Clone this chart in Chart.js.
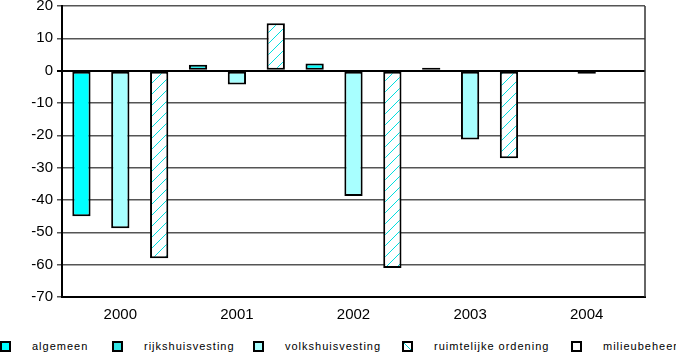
<!DOCTYPE html>
<html>
<head>
<meta charset="utf-8">
<script src="https://cdn.jsdelivr.net/npm/chart.js@4/dist/chart.umd.min.js"></script>
<style>
  body { margin: 0; background: #fff; width: 676px; height: 353px; overflow: hidden; position: relative; font-family: "Liberation Sans", Arial, sans-serif; }
  #grafiek { position: absolute; left: 0; top: -7px; }
  #legenda { position: absolute; left: 0; top: 341px; width: 676px; height: 12px; }
  .item { position: absolute; top: 0; height: 12px; }
  .vak { position: absolute; left: 0; top: 0; width: 7px; height: 7px; border: 2px solid #000; }
  .tekst { position: absolute; left: 32px; top: -1px; font-size: 11px; letter-spacing: 1px; white-space: nowrap; color: #000; }
</style>
</head>
<body>
<canvas id="grafiek" width="676" height="332"></canvas>
<div id="legenda"></div>
<script>
const jaren = ['2000', '2001', '2002', '2003', '2004']
const algemeen = [-45, 1.8, 2.2, 0.3, null]
const rijkshuisvesting = [null, null, null, null, null]
const volkshuisvesting = [-48.7, -4.3, -38.8, -21.3, null]
const ruimtelijkeOrdening = [-58, 14.7, -61, -27.1, null]
const milieubeheer = [null, null, null, null, -0.8]

const legendaX = [0, 112, 253, 402, 571]

function arcering() {
    const c = document.createElement('canvas')
    c.width = 11
    c.height = 11
    const g = c.getContext('2d')
    g.fillStyle = '#fff'
    g.fillRect(0, 0, 11, 11)
    g.strokeStyle = '#00dede'
    g.lineWidth = 1
    g.beginPath()
    g.moveTo(0, 11)
    g.lineTo(11, 0)
    g.stroke()
    return g.createPattern(c, 'repeat')
}

const series = [
    { label: 'algemeen', data: algemeen, kleur: '#00ffff', stack: 'a', css: '#00ffff' },
    { label: 'rijkshuisvesting', data: rijkshuisvesting, kleur: '#33e6e6', stack: 'b', css: '#33e6e6' },
    { label: 'volkshuisvesting', data: volkshuisvesting, kleur: '#a8ffff', stack: 'b', css: '#a8ffff' },
    { label: 'ruimtelijke ordening', data: ruimtelijkeOrdening, kleur: arcering(), stack: 'c',
      css: 'linear-gradient(45deg, #fff 44%, #00d0d0 50%, #fff 56%)' },
    { label: 'milieubeheer', data: milieubeheer, kleur: '#ffffff', stack: 'b', css: '#fff' }
]

// rand rechts van het plotvlak
const kader = {
    id: 'kader',
    afterDraw(chart) {
        const { ctx, chartArea } = chart
        ctx.save()
        ctx.strokeStyle = '#333'
        ctx.lineWidth = 1.5
        ctx.beginPath()
        ctx.moveTo(chartArea.right, chartArea.top)
        ctx.lineTo(chartArea.right, chartArea.bottom)
        ctx.stroke()
        ctx.restore()
    }
}

const cfg = {
    type: 'bar',
    data: {
        labels: jaren,
        datasets: series.map(s => ({
            label: s.label,
            data: s.data,
            stack: s.stack,
            backgroundColor: s.kleur,
            borderColor: '#000',
            borderWidth: 2,
            borderSkipped: false,
            minBarLength: 3
        }))
    },
    options: {
        responsive: false,
        animation: false,
        layout: { padding: { top: 0, right: 31, left: 0, bottom: 0 } },
        datasets: { bar: { categoryPercentage: 1, barPercentage: 0.47 } },
        plugins: {
            legend: { display: false },
            tooltip: { enabled: false }
        },
        scales: {
            x: {
                grid: { display: false },
                border: { color: '#000', width: 2 },
                ticks: { color: '#000', font: { family: 'Liberation Sans', size: 15 }, padding: 1 }
            },
            y: {
                min: -70,
                max: 20,
                ticks: { stepSize: 10, color: '#000', font: { family: 'Liberation Sans', size: 15 }, padding: 4 },
                grid: {
                    color: c => c.tick && c.tick.value === 0 ? '#000' : '#555',
                    lineWidth: c => c.tick && c.tick.value === 0 ? 2 : 1.5,
                    tickLength: 5
                },
                border: { color: '#000', width: 2 },
                afterFit: scale => { scale.width = 62 }
            }
        }
    },
    plugins: [kader]
}

const ctx = document.getElementById('grafiek').getContext('2d')
const grafiek = new Chart(ctx, cfg)

const legenda = document.getElementById('legenda')
series.forEach((s, i) => {
    const item = document.createElement('div')
    item.className = 'item'
    item.style.left = legendaX[i] + 'px'
    const vak = document.createElement('div')
    vak.className = 'vak'
    vak.style.background = s.css
    const tekst = document.createElement('div')
    tekst.className = 'tekst'
    tekst.textContent = s.label
    item.appendChild(vak)
    item.appendChild(tekst)
    legenda.appendChild(item)
})
</script>
</body>
</html>
